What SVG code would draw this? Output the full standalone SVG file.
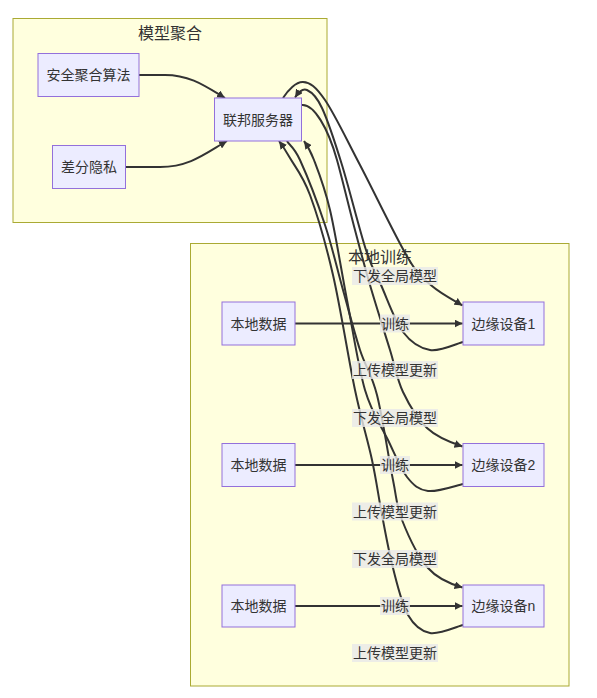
<svg xmlns="http://www.w3.org/2000/svg" width="597" height="698" viewBox="0 0 597 698">
<style>
.cluster{fill:#ffffde;stroke:#aaaa33;stroke-width:1}
.node{fill:#ECECFF;stroke:#9370DB;stroke-width:1}
.t{font-family:"Liberation Sans","Noto Sans CJK SC",sans-serif;font-size:14px;fill:#333;text-anchor:middle;dominant-baseline:central}
.ct{font-family:"Liberation Sans","Noto Sans CJK SC",sans-serif;font-size:16px;fill:#333;text-anchor:middle;dominant-baseline:central}
.e{fill:none;stroke:#333;stroke-width:2}
.lb{fill:#e8e8e8;fill-opacity:0.8}
</style>
<defs>
<marker id="ah" viewBox="0 0 10 10" refX="10" refY="5" markerWidth="8" markerHeight="8" markerUnits="userSpaceOnUse" orient="auto">
<path d="M0,0 L10,5 L0,10 z" fill="#333"/>
</marker>
</defs>
<rect width="597" height="698" fill="#ffffff"/>
<g id="cluster-aggregate">
<rect class="cluster" x="13" y="18.5" width="314" height="204"/>
<text class="ct" x="170" y="33">模型聚合</text>
</g>
<g id="cluster-local">
<rect class="cluster" x="190.5" y="243.5" width="378.5" height="442.5"/>
<text class="ct" x="380" y="257">本地训练</text>
</g>
<g id="connectors">
<path class="e" marker-end="url(#ah)" d="M139,75 L165,75 C190,75 205,86 225,98"/>
<path class="e" marker-end="url(#ah)" d="M125,167 L160,167 C190,167 206,153 227,141"/>
<path class="e" marker-end="url(#ah)" d="M283,98 C288,90 296,81.7 303,82 C310,82.3 315.5,86.2 325,100 C334.5,113.8 346.2,138.7 360,165 C373.8,191.3 396,237.8 408,258 C420,278.2 423,278.2 432,286 C441,293.8 455,301 462.5,305.5"/>
<path class="e" marker-end="url(#ah)" d="M463,342 C457.5,343.3 440,351.7 430,350 C420,348.3 411.2,342.8 403,332 C394.8,321.2 387.2,298.7 381,285 C374.8,271.3 372.5,270 366,250 C359.5,230 349.3,188.7 342,165 C334.7,141.3 327.8,120.5 322,108 C316.2,95.5 311.3,92 307,90 C302.7,88 298,93 295,97.5"/>
<path class="e" marker-end="url(#ah)" d="M302,105 C314,104 328,128 337,160 C341,174 349.5,209.2 355,230 C360.5,250.8 364.2,265 370,285 C375.8,305 384.5,332.2 390,350 C395.5,367.8 396.8,379 403,392 C409.2,405 417.3,418.8 427,428 C436.7,437.2 452,443 462.5,446.5"/>
<path class="e" marker-end="url(#ah)" d="M463,484 C457,485.2 437.3,492.2 428,491 C418.7,489.8 413.7,485.5 407,477 C400.3,468.5 395,454.5 388,440 C381,425.5 371.8,413.3 365,390 C358.2,366.7 352.8,330 347,300 C341.2,270 335.5,233.3 330,210 C324.5,186.7 318.3,171.2 314,160 C309.7,148.8 306.5,144.5 304,141"/>
<path class="e" marker-end="url(#ah)" d="M287,141 C289,145 293.7,146.2 300,160 C306.3,173.8 317.8,203.3 325,225 C332.2,246.7 337.2,269.2 343,290 C348.8,310.8 354.3,332.5 360,350 C365.7,367.5 371.5,373.3 377,395 C382.5,416.7 388.8,459.2 393,480 C397.2,500.8 396.2,505.3 402,520 C407.8,534.7 418.2,556.8 428,568 C437.8,579.2 452,584.5 462.5,587.5"/>
<path class="e" marker-end="url(#ah)" d="M463,625 C457.5,626.3 439.2,634.7 430,633 C420.8,631.3 414.2,625.8 408,615 C401.8,604.2 397.3,584.7 393,568 C388.7,551.3 385.5,533 382,515 C378.5,497 376.5,480.8 372,460 C367.5,439.2 361.5,420.8 355,390 C348.5,359.2 340.5,307.5 333,275 C325.5,242.5 317.2,214.5 310,195 C302.8,175.5 295,166.7 290,158 C285,149.3 282,145 279,141"/>
<path class="e" marker-end="url(#ah)" d="M295,323.5 L462.5,323.5"/>
<path class="e" marker-end="url(#ah)" d="M295,465 L462.5,465"/>
<path class="e" marker-end="url(#ah)" d="M295,606 L462.5,606"/>
</g>
<g id="edge-labels">
<rect class="lb" x="352" y="267" width="86" height="18"/><text class="t" x="395" y="276">下发全局模型</text>
<rect class="lb" x="380" y="314.5" width="30" height="18"/><text class="t" x="395" y="323.5">训练</text>
<rect class="lb" x="352" y="361" width="86" height="18"/><text class="t" x="395" y="370">上传模型更新</text>
<rect class="lb" x="352" y="409" width="86" height="18"/><text class="t" x="395" y="418">下发全局模型</text>
<rect class="lb" x="380" y="456" width="30" height="18"/><text class="t" x="395" y="465">训练</text>
<rect class="lb" x="352" y="502.5" width="86" height="18"/><text class="t" x="395" y="511.5">上传模型更新</text>
<rect class="lb" x="352" y="550" width="86" height="18"/><text class="t" x="395" y="559">下发全局模型</text>
<rect class="lb" x="380" y="597" width="30" height="18"/><text class="t" x="395" y="606">训练</text>
<rect class="lb" x="352" y="644" width="86" height="18"/><text class="t" x="395" y="653">上传模型更新</text>
</g>
<g id="node-secagg"><rect class="node" x="38" y="53.5" width="101" height="43"/><text class="t" x="88.5" y="75">安全聚合算法</text></g>
<g id="node-dp"><rect class="node" x="52.5" y="145.5" width="73" height="43"/><text class="t" x="89" y="167">差分隐私</text></g>
<g id="node-server"><rect class="node" x="214.5" y="98" width="87" height="43"/><text class="t" x="258" y="119.5">联邦服务器</text></g>
<g id="node-data1"><rect class="node" x="222" y="302" width="73" height="43"/><text class="t" x="258.5" y="323.5">本地数据</text></g>
<g id="node-dev1"><rect class="node" x="463" y="302" width="81" height="43"/><text class="t" x="503.5" y="323.5">边缘设备1</text></g>
<g id="node-data2"><rect class="node" x="222" y="443.5" width="73" height="43"/><text class="t" x="258.5" y="465">本地数据</text></g>
<g id="node-dev2"><rect class="node" x="463" y="443.5" width="81" height="43"/><text class="t" x="503.5" y="465">边缘设备2</text></g>
<g id="node-data3"><rect class="node" x="222" y="585" width="73" height="42"/><text class="t" x="258.5" y="606">本地数据</text></g>
<g id="node-devn"><rect class="node" x="463" y="585" width="81" height="42"/><text class="t" x="503.5" y="606">边缘设备n</text></g>
</svg>
